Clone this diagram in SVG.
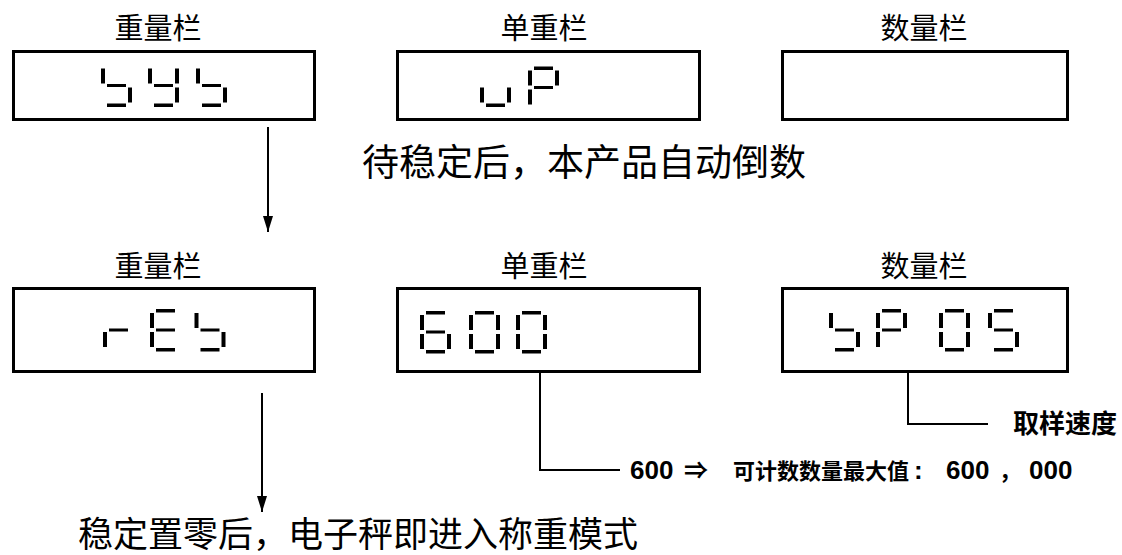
<svg xmlns="http://www.w3.org/2000/svg" width="1122" height="555" viewBox="0 0 1122 555">
<style>
.box{fill:#fff;stroke:#000;stroke-width:3}
.lbl{font-family:"Noto Sans CJK SC","Liberation Sans",sans-serif;font-size:29px;fill:#000;text-anchor:middle}
.big{font-family:"Noto Sans CJK SC","Liberation Sans",sans-serif;fill:#000}
.note{font-family:"Liberation Sans","Noto Sans CJK SC",sans-serif;font-weight:bold;fill:#000}
.seg{fill:#000}
.ln{fill:none;stroke:#000;stroke-width:2}
</style>
<defs>
<marker id="ah" markerUnits="userSpaceOnUse" markerWidth="16" markerHeight="10" refX="16" refY="5" orient="auto" viewBox="0 0 16 10">
<path d="M0,0 L16,5 L0,10 Z" fill="#000"/>
</marker>
<rect id="sa" class="seg" x="6" y="0" width="19" height="3.5"/>
<rect id="sf" class="seg" x="0" y="4" width="4" height="15"/>
<rect id="sb" class="seg" x="27" y="4" width="4" height="15"/>
<rect id="sg" class="seg" x="6" y="19.5" width="19" height="3"/>
<rect id="se" class="seg" x="0" y="23" width="4" height="15"/>
<rect id="sc" class="seg" x="27" y="23" width="4" height="15"/>
<rect id="sd" class="seg" x="6" y="39" width="19" height="3.5"/>
<g id="d-s"><use href="#sf"/><use href="#sg"/><use href="#sc"/><use href="#sd"/></g>
<g id="d-y"><use href="#sf"/><use href="#sb"/><use href="#sg"/><use href="#sc"/><use href="#sd"/></g>
<g id="d-u"><use href="#se"/><use href="#sc"/><use href="#sd"/></g>
<g id="d-P"><use href="#sa"/><use href="#sf"/><use href="#sb"/><use href="#sg"/><use href="#se"/></g>
<g id="d-r"><use href="#sg"/><use href="#se"/></g>
<g id="d-E"><use href="#sa"/><use href="#sf"/><use href="#sg"/><use href="#se"/><use href="#sd"/></g>
<g id="d-6"><use href="#sa"/><use href="#sf"/><use href="#sg"/><use href="#se"/><use href="#sc"/><use href="#sd"/></g>
<g id="d-0"><use href="#sa"/><use href="#sf"/><use href="#sb"/><use href="#se"/><use href="#sc"/><use href="#sd"/></g>
<g id="d-5"><use href="#sa"/><use href="#sf"/><use href="#sg"/><use href="#sc"/><use href="#sd"/></g>
</defs>
<rect width="1122" height="555" fill="#fff"/>

<g id="weight1">
<text class="lbl" x="158" y="39">重量栏</text>
<rect class="box" x="13.5" y="51.5" width="301" height="68"/>
<use href="#d-s" x="101" y="64.5"/><use href="#d-y" x="148" y="64.5"/><use href="#d-s" x="196" y="64.5"/>
</g>
<g id="unit1">
<text class="lbl" x="544" y="39">单重栏</text>
<rect class="box" x="397.5" y="51.5" width="302" height="68"/>
<use href="#d-u" x="480" y="64.5"/><use href="#d-P" x="528" y="66.5"/>
</g>
<g id="count1">
<text class="lbl" x="924" y="39">数量栏</text>
<rect class="box" x="782.5" y="51.5" width="285" height="68"/>
</g>

<text id="msg1" class="big" x="362" y="176" style="font-size:37px">待稳定后，本产品自动倒数</text>

<g id="weight2">
<text class="lbl" x="158" y="277">重量栏</text>
<rect class="box" x="13.5" y="288.5" width="301" height="83"/>
<use href="#d-r" x="103" y="309"/><use href="#d-E" x="150" y="309"/><use href="#d-s" x="194.5" y="309"/>
</g>
<g id="unit2">
<text class="lbl" x="544" y="277">单重栏</text>
<rect class="box" x="397.5" y="288.5" width="302" height="83"/>
<use href="#d-6" x="420" y="311"/><use href="#d-0" x="469" y="311"/><use href="#d-0" x="516" y="311"/>
</g>
<g id="count2">
<text class="lbl" x="924" y="277">数量栏</text>
<rect class="box" x="782.5" y="288.5" width="285" height="83"/>
<use href="#d-s" x="829" y="309"/><use href="#d-P" x="876" y="309"/><use href="#d-0" x="939" y="309"/><use href="#d-5" x="988" y="309"/>
</g>

<g id="connectors">
<line class="ln" x1="268" y1="127" x2="268" y2="232" marker-end="url(#ah)"/>
<line class="ln" x1="262" y1="393" x2="262" y2="512" marker-end="url(#ah)"/>
<polyline class="ln" points="540,373 540,470 620,470"/>
<polyline class="ln" points="908,373 908,424 988,424"/>
</g>

<text id="note-speed" class="note" x="1013" y="433" font-size="26">取样速度</text>
<text id="note-max" class="note" y="479" font-size="22"><tspan x="630" font-size="26">600</tspan><tspan x="684" font-size="24">⇒</tspan><tspan x="733">可计数数量最大值</tspan><tspan x="914" font-size="26">:</tspan><tspan x="946" font-size="26">600</tspan><tspan x="999">，</tspan><tspan x="1029" font-size="26">000</tspan></text>

<text id="msg2" class="big" x="78" y="547" style="font-size:35px">稳定置零后，电子秤即进入称重模式</text>
</svg>
